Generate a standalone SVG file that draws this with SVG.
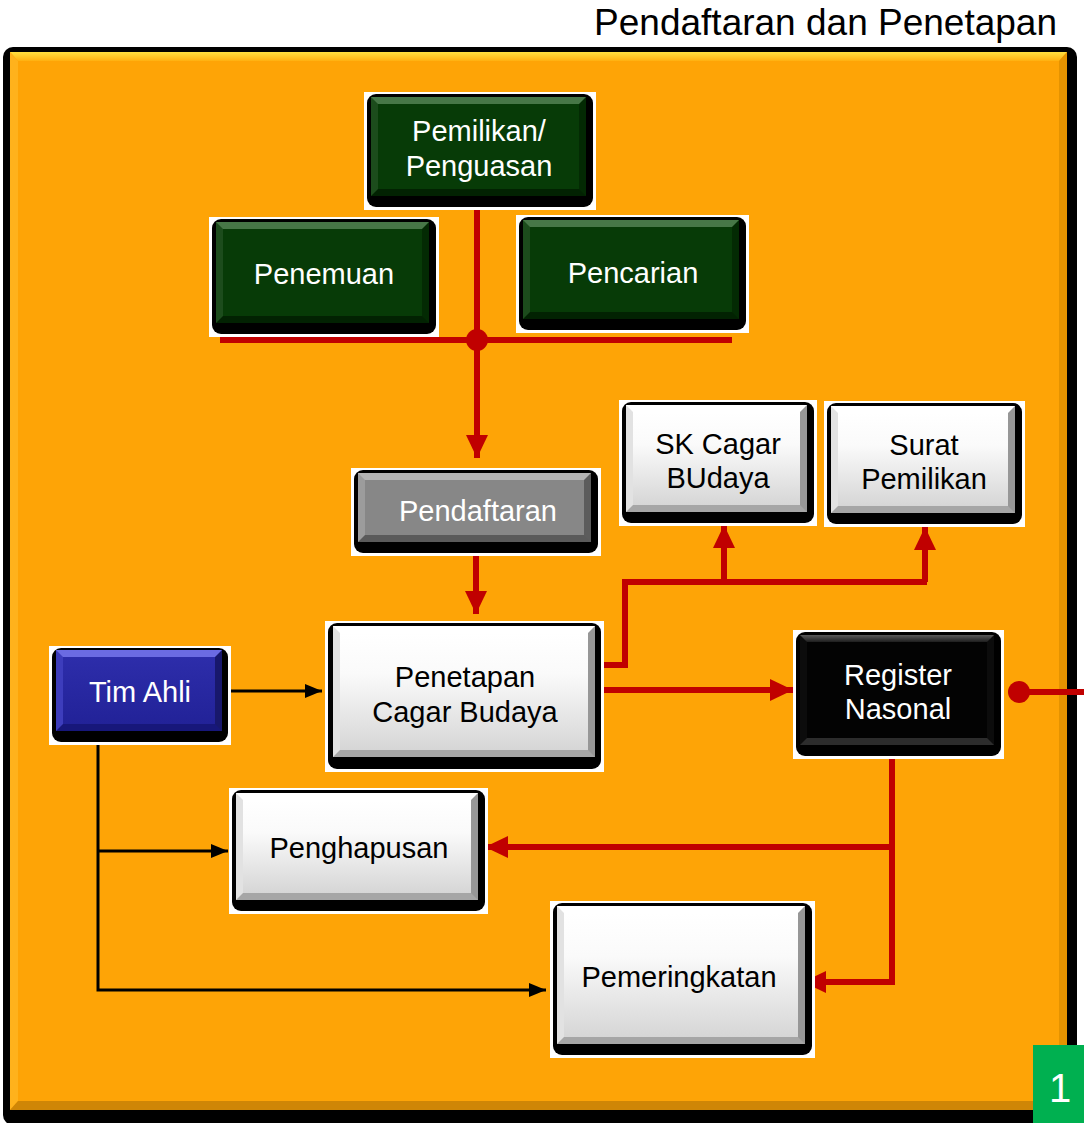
<svg xmlns="http://www.w3.org/2000/svg" width="1084" height="1123" viewBox="0 0 1084 1123">
  <defs>
    <style>
      .frame { fill: #ffffff; }
      .shadow { fill: #000000; }
      .lbl { font-family: "Liberation Sans", Arial, sans-serif; font-size: 29px; text-anchor: middle; }
      .lt { fill: #ffffff; }
      .dk { fill: #000000; }
      .red { fill: none; stroke: #C00000; stroke-width: 6; }
      .blk { fill: none; stroke: #000000; stroke-width: 3; }
      /* white keys */
      .w-side { fill: url(#wSide); } .w-top { fill: #ffffff; } .w-bot { fill: #a6a6a6; } .w-face { fill: url(#wFace); }
      /* green keys */
      .g-side { fill: url(#gSide); } .g-top { fill: #477747; } .g-bot { fill: #022202; } .g-face { fill: #073b07; }
      /* grey key */
      .s-side { fill: url(#sSide); } .s-top { fill: #b4b4b4; } .s-bot { fill: #5a5a5a; } .s-face { fill: #878787; }
      /* blue key */
      .b-side { fill: url(#bSide); } .b-top { fill: #6b6be2; } .b-bot { fill: #17177a; } .b-face { fill: url(#bFace); }
      /* black key */
      .k-side { fill: #0c0c0c; } .k-top { fill: url(#kTop); } .k-bot { fill: #2c2c2c; } .k-face { fill: #030303; }
    </style>
    <linearGradient id="wSide" x1="0" y1="0" x2="1" y2="0">
      <stop offset="0" stop-color="#e2e2e2"/><stop offset="0.5" stop-color="#e2e2e2"/>
      <stop offset="0.5" stop-color="#979797"/><stop offset="1" stop-color="#979797"/>
    </linearGradient>
    <linearGradient id="wFace" x1="0" y1="0" x2="0" y2="1">
      <stop offset="0" stop-color="#ffffff"/><stop offset="0.35" stop-color="#fafafa"/><stop offset="1" stop-color="#d6d6d6"/>
    </linearGradient>
    <linearGradient id="gSide" x1="0" y1="0" x2="1" y2="0">
      <stop offset="0" stop-color="#1c4c1c"/><stop offset="0.5" stop-color="#1c4c1c"/>
      <stop offset="0.5" stop-color="#032a03"/><stop offset="1" stop-color="#032a03"/>
    </linearGradient>
    <linearGradient id="sSide" x1="0" y1="0" x2="1" y2="0">
      <stop offset="0" stop-color="#9c9c9c"/><stop offset="0.5" stop-color="#9c9c9c"/>
      <stop offset="0.5" stop-color="#5c5c5c"/><stop offset="1" stop-color="#5c5c5c"/>
    </linearGradient>
    <linearGradient id="bSide" x1="0" y1="0" x2="1" y2="0">
      <stop offset="0" stop-color="#3d3dbc"/><stop offset="0.5" stop-color="#3d3dbc"/>
      <stop offset="0.5" stop-color="#18186c"/><stop offset="1" stop-color="#18186c"/>
    </linearGradient>
    <linearGradient id="bFace" x1="0" y1="0" x2="0" y2="1">
      <stop offset="0" stop-color="#2d2daa"/><stop offset="1" stop-color="#222298"/>
    </linearGradient>
    <linearGradient id="kTop" x1="0" y1="0" x2="0" y2="1">
      <stop offset="0" stop-color="#5a5a5a"/><stop offset="1" stop-color="#1e1e1e"/>
    </linearGradient>
    <linearGradient id="panelTop" x1="0" y1="0" x2="0" y2="1">
      <stop offset="0" stop-color="#ffe040"/><stop offset="1" stop-color="#ffb010"/>
    </linearGradient>
    <marker id="redArrow" markerUnits="userSpaceOnUse" markerWidth="24" markerHeight="22" refX="23" refY="11" orient="auto">
      <path d="M0,0 L23,11 L0,22 Z" fill="#C00000"/>
    </marker>
    <marker id="blkArrow" markerUnits="userSpaceOnUse" markerWidth="18" markerHeight="14" refX="17" refY="7" orient="auto">
      <path d="M0,0 L17,7 L0,14 Z" fill="#000000"/>
    </marker>
  </defs>

  <rect width="1084" height="1123" fill="#ffffff"/>

  <!-- title -->
  <text x="1057" y="35" font-family="'Liberation Sans', Arial, sans-serif" font-size="37" text-anchor="end" fill="#000000">Pendaftaran dan Penetapan</text>

  <!-- orange panel with bevelled edges -->
  <g id="panel">
    <rect x="3" y="47" width="1074" height="1078" rx="10" fill="#000000"/>
    <rect x="10" y="52" width="1057" height="1058" fill="#FEA406"/>
    <polygon points="10,52 1067,52 1059,61 18,61" fill="url(#panelTop)"/>
    <polygon points="10,52 18,61 18,1101 10,1110" fill="#ffb21c"/>
    <polygon points="1067,52 1059,61 1059,1101 1067,1110" fill="#e59300"/>
    <polygon points="10,1110 18,1101 1059,1101 1067,1110" fill="#cf8606"/>
  </g>

  <!-- connectors -->
  <g id="connectors">
    <line class="red" x1="220" y1="340" x2="732" y2="340"/>
    <path class="red" d="M477,210 V458" marker-end="url(#redArrow)"/>
    <circle cx="477" cy="340" r="11" fill="#C00000"/>
    <path class="red" d="M476,556 V614" marker-end="url(#redArrow)"/>
    <path class="red" d="M604,665 H625 V582 H927"/>
    <path class="red" d="M724,582 V525" marker-end="url(#redArrow)"/>
    <path class="red" d="M925,582 V527" marker-end="url(#redArrow)"/>
    <path class="red" d="M604,690 H793" marker-end="url(#redArrow)"/>
    <line class="red" x1="1019" y1="692" x2="1084" y2="692"/>
    <circle cx="1019" cy="692" r="11" fill="#C00000"/>
    <path class="red" d="M892,759 V982 H803" marker-end="url(#redArrow)"/>
    <path class="red" d="M892,847 H485" marker-end="url(#redArrow)"/>
    <path class="blk" d="M231,691 H322" marker-end="url(#blkArrow)"/>
    <path class="blk" d="M98,745 V990 H546" marker-end="url(#blkArrow)"/>
    <path class="blk" d="M98,851 H228" marker-end="url(#blkArrow)"/>
  </g>

  <!-- nodes: white frame, black drop shadow, bevelled key face -->
  <g id="pemilikan">
    <rect class="frame" x="364" y="92" width="232" height="118"/>
    <rect class="shadow" x="367" y="94" width="226" height="113" rx="9"/>
    <rect class="g-side" x="371" y="97" width="215" height="99"/>
    <polygon class="g-top" points="371,97 586,97 579,104 378,104"/>
    <polygon class="g-bot" points="371,196 586,196 579,189 378,189"/>
    <rect class="g-face" x="378" y="104" width="201" height="85"/>
    <text class="lbl lt" x="479" y="141">Pemilikan/</text>
    <text class="lbl lt" x="479" y="176">Penguasan</text>
  </g>
  <g id="penemuan">
    <rect class="frame" x="209" y="217" width="230" height="120"/>
    <rect class="shadow" x="212" y="219" width="224" height="115" rx="9"/>
    <rect class="g-side" x="216" y="222" width="213" height="101"/>
    <polygon class="g-top" points="216,222 429,222 422,229 223,229"/>
    <polygon class="g-bot" points="216,323 429,323 422,316 223,316"/>
    <rect class="g-face" x="223" y="229" width="199" height="87"/>
    <text class="lbl lt" x="324" y="284">Penemuan</text>
  </g>
  <g id="pencarian">
    <rect class="frame" x="516" y="215" width="233" height="118"/>
    <rect class="shadow" x="519" y="217" width="227" height="113" rx="9"/>
    <rect class="g-side" x="523" y="220" width="216" height="99"/>
    <polygon class="g-top" points="523,220 739,220 732,227 530,227"/>
    <polygon class="g-bot" points="523,319 739,319 732,312 530,312"/>
    <rect class="g-face" x="530" y="227" width="202" height="85"/>
    <text class="lbl lt" x="633" y="283">Pencarian</text>
  </g>
  <g id="pendaftaran">
    <rect class="frame" x="351" y="468" width="250" height="88"/>
    <rect class="shadow" x="354" y="470" width="244" height="83" rx="9"/>
    <rect class="s-side" x="358" y="473" width="233" height="69"/>
    <polygon class="s-top" points="358,473 591,473 584,480 365,480"/>
    <polygon class="s-bot" points="358,542 591,542 584,535 365,535"/>
    <rect class="s-face" x="365" y="480" width="219" height="55"/>
    <text class="lbl lt" x="478" y="521">Pendaftaran</text>
  </g>
  <g id="sk-cagar-budaya">
    <rect class="frame" x="619" y="400" width="198" height="126"/>
    <rect class="shadow" x="622" y="402" width="192" height="121" rx="9"/>
    <rect class="w-side" x="626" y="405" width="181" height="107"/>
    <polygon class="w-top" points="626,405 807,405 800,412 633,412"/>
    <polygon class="w-bot" points="626,512 807,512 800,505 633,505"/>
    <rect class="w-face" x="633" y="412" width="167" height="93"/>
    <text class="lbl dk" x="718" y="454">SK Cagar</text>
    <text class="lbl dk" x="718" y="488">BUdaya</text>
  </g>
  <g id="surat-pemilikan">
    <rect class="frame" x="824" y="401" width="201" height="126"/>
    <rect class="shadow" x="827" y="403" width="195" height="121" rx="9"/>
    <rect class="w-side" x="831" y="406" width="184" height="107"/>
    <polygon class="w-top" points="831,406 1015,406 1008,413 838,413"/>
    <polygon class="w-bot" points="831,513 1015,513 1008,506 838,506"/>
    <rect class="w-face" x="838" y="413" width="170" height="93"/>
    <text class="lbl dk" x="924" y="455">Surat</text>
    <text class="lbl dk" x="924" y="489">Pemilikan</text>
  </g>
  <g id="tim-ahli">
    <rect class="frame" x="49" y="646" width="182" height="99"/>
    <rect class="shadow" x="52" y="648" width="176" height="94" rx="9"/>
    <rect class="b-side" x="56" y="650" width="166" height="81"/>
    <polygon class="b-top" points="56,650 222,650 215,657 63,657"/>
    <polygon class="b-bot" points="56,731 222,731 215,724 63,724"/>
    <rect class="b-face" x="63" y="657" width="152" height="67"/>
    <text class="lbl lt" x="140" y="702">Tim Ahli</text>
  </g>
  <g id="penetapan">
    <rect class="frame" x="325" y="621" width="279" height="151"/>
    <rect class="shadow" x="328" y="623" width="273" height="146" rx="9"/>
    <rect class="w-side" x="333" y="626" width="262" height="131"/>
    <polygon class="w-top" points="333,626 595,626 588,633 340,633"/>
    <polygon class="w-bot" points="333,757 595,757 588,750 340,750"/>
    <rect class="w-face" x="340" y="633" width="248" height="117"/>
    <text class="lbl dk" x="465" y="687">Penetapan</text>
    <text class="lbl dk" x="465" y="722">Cagar Budaya</text>
  </g>
  <g id="register-nasonal">
    <rect class="frame" x="793" y="630" width="211" height="129"/>
    <rect class="shadow" x="796" y="632" width="205" height="124" rx="9"/>
    <rect class="k-side" x="800" y="635" width="194" height="110"/>
    <polygon class="k-top" points="800,635 994,635 987,642 807,642"/>
    <polygon class="k-bot" points="800,745 994,745 987,738 807,738"/>
    <rect class="k-face" x="807" y="642" width="180" height="96"/>
    <text class="lbl lt" x="898" y="685">Register</text>
    <text class="lbl lt" x="898" y="719">Nasonal</text>
  </g>
  <g id="penghapusan">
    <rect class="frame" x="229" y="788" width="259" height="126"/>
    <rect class="shadow" x="232" y="790" width="253" height="121" rx="9"/>
    <rect class="w-side" x="236" y="793" width="242" height="107"/>
    <polygon class="w-top" points="236,793 478,793 471,800 243,800"/>
    <polygon class="w-bot" points="236,900 478,900 471,893 243,893"/>
    <rect class="w-face" x="243" y="800" width="228" height="93"/>
    <text class="lbl dk" x="359" y="858">Penghapusan</text>
  </g>
  <g id="pemeringkatan">
    <rect class="frame" x="550" y="901" width="265" height="157"/>
    <rect class="shadow" x="553" y="903" width="259" height="152" rx="9"/>
    <rect class="w-side" x="557" y="906" width="248" height="138"/>
    <polygon class="w-top" points="557,906 805,906 798,913 564,913"/>
    <polygon class="w-bot" points="557,1044 805,1044 798,1037 564,1037"/>
    <rect class="w-face" x="564" y="913" width="234" height="124"/>
    <text class="lbl dk" x="679" y="987">Pemeringkatan</text>
  </g>

  <!-- page number tag -->
  <g id="page-number">
    <rect x="1033" y="1045" width="51" height="78" fill="#00B050"/>
    <text x="1060" y="1102" font-family="'Liberation Sans', Arial, sans-serif" font-size="40" text-anchor="middle" fill="#ffffff">1</text>
  </g>
</svg>
